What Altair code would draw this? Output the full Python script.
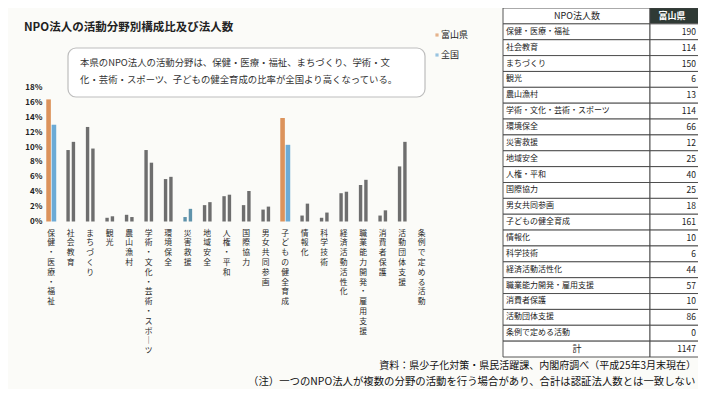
import altair as alt
import pandas as pd

# ---------------- data ----------------
categories = ["保健・医療・福祉", "社会教育", "まちづくり", "観光", "農山漁村",
              "学術・文化・芸術・スポーツ", "環境保全", "災害救援", "地域安全", "人権・平和",
              "国際協力", "男女共同参画", "子どもの健全育成", "情報化", "科学技術",
              "経済活動活性化", "職業能力開発・雇用支援", "消費者保護", "活動団体支援",
              "条例で定める活動"]
toyama_pct = [16.4, 9.6, 12.7, 0.5, 0.9, 9.6, 5.7, 0.6, 2.2, 3.4,
              2.2, 1.6, 13.9, 0.8, 0.5, 3.8, 4.9, 0.8, 7.4, 0.0]
national_pct = [13.0, 10.7, 9.8, 0.7, 0.6, 7.9, 6.0, 1.7, 2.6, 3.6,
                4.1, 2.0, 10.3, 2.4, 1.2, 4.0, 5.6, 1.5, 10.7, 0.0]
toyama_counts = [190, 114, 150, 6, 13, 114, 66, 12, 25, 40,
                 25, 18, 161, 10, 6, 44, 57, 10, 86, 0]
total_label = "計"
total_count = 1147
series = ["富山県", "全国"]
y_ticks = [0, 2, 4, 6, 8, 10, 12, 14, 16, 18]
highlighted = ["保健・医療・福祉", "子どもの健全育成"]

title_text = "NPO法人の活動分野別構成比及び法人数"
note_lines = ["本県のNPO法人の活動分野は、保健・医療・福祉、まちづくり、学術・文",
              "化・芸術・スポーツ、子どもの健全育成の比率が全国より高くなっている。"]
source_text = "資料：県少子化対策・県民活躍課、内閣府調べ（平成25年3月末現在）"
footnote_text = "（注）一つのNPO法人が複数の分野の活動を行う場合があり、合計は認証法人数とは一致しない"
table_header = ["NPO法人数", "富山県"]

# ---------------- styles ----------------
FONT = "Noto Sans CJK JP"
ORANGE = "#dc935c"
BLUE = "#6cabd6"
GRAY = "#6e6e6e"
TEAL = "#5f93ab"
INK = "#222222"
W, H = 690, 381

# ---------------- bar chart ----------------
rows = []
for i, c in enumerate(categories):
    for s, v in zip(series, (toyama_pct[i], national_pct[i])):
        if c in highlighted:
            col, w = (ORANGE if s == "富山県" else BLUE), 4.6
        elif c == "災害救援":
            col, w = TEAL, 3.4
        else:
            col, w = GRAY, 3.4
        rows.append({"cat": c, "series": s, "pct": v, "col": col, "w": w})
bars_df = pd.DataFrame(rows)

bars = alt.Chart(bars_df).mark_bar().encode(
    x=alt.X("cat:N", sort=categories,
            scale=alt.Scale(domain=categories, range=[33.5, 423.5],
                            paddingInner=0.45, paddingOuter=0.225),
            axis=alt.Axis(orient="bottom", offset=-162, title=None,
                          labelExpr="split(replace(datum.label, 'ー', '｜'), '')",
                          labelAngle=0, labelAlign="center", labelBaseline="top",
                          labelLineHeight=9.8, labelFontSize=7.8, labelFont=FONT,
                          labelColor="#2a2a2a", labelPadding=2, labelOverlap=False,
                          labelLimit=0, domain=False, ticks=False, grid=False)),
    xOffset=alt.XOffset("series:N", sort=series, scale=alt.Scale(domain=series)),
    y=alt.Y("pct:Q",
            scale=alt.Scale(domain=[0, 18], range=[213.5, 79.5], nice=False),
            axis=alt.Axis(values=y_ticks, labelExpr="datum.value + '%'", title=None,
                          orient="left", offset=-36, labelPadding=2,
                          labelFontSize=8, labelFont=FONT, labelFontWeight="bold",
                          labelColor=INK, domain=False, ticks=False, grid=False)),
    color=alt.Color("col:N", scale=None),
    size=alt.Size("w:Q", scale=None),
)

one = pd.DataFrame({"t": [title_text]})
title = alt.Chart(one).mark_text(align="left", baseline="middle", fontSize=11.5,
                                 fontWeight="bold", font=FONT, color=INK).encode(
    x=alt.value(16), y=alt.value(20), text="t:N")

box = alt.Chart(pd.DataFrame({"t": [0]})).mark_rect(
    cornerRadius=8, fill="#ffffff", stroke="#bdbdbd", strokeWidth=1.2).encode(
    x=alt.value(60), x2=alt.value(417), y=alt.value(40), y2=alt.value(89))

note_df = pd.DataFrame({"t": note_lines, "i": [0, 1]})
notes = alt.Chart(note_df).mark_text(align="left", baseline="middle", fontSize=9.4,
                                     font=FONT, color="#333333").encode(
    x=alt.value(72),
    y=alt.Y("i:O", scale=alt.Scale(type="point", domain=[0, 1], range=[55, 72], padding=0),
            axis=None),
    text="t:N")

leg_df = pd.DataFrame({"s": series, "col": [ORANGE, BLUE]})
leg_scale = alt.Scale(type="point", domain=series, range=[27, 47], padding=0)
leg_marks = alt.Chart(leg_df).mark_square(size=10).encode(
    x=alt.value(429),
    y=alt.Y("s:N", sort=series, scale=leg_scale, axis=None),
    color=alt.Color("col:N", scale=None))
leg_text = alt.Chart(leg_df).mark_text(align="left", baseline="middle", fontSize=9,
                                       font=FONT, color=INK).encode(
    x=alt.value(433),
    y=alt.Y("s:N", sort=series, scale=leg_scale, axis=None),
    text="s:N")

src = alt.Chart(pd.DataFrame({"t": [source_text]})).mark_text(
    align="right", baseline="middle", fontSize=10, font=FONT, color="#111111").encode(
    x=alt.value(688), y=alt.value(358), text="t:N")
foot = alt.Chart(pd.DataFrame({"t": [footnote_text]})).mark_text(
    align="left", baseline="middle", fontSize=10.4, font=FONT, color="#111111").encode(
    x=alt.value(240), y=alt.value(374), text="t:N")

# ---------------- table ----------------
row_keys = ["hdr"] + categories + [total_label]
tscale = alt.Scale(domain=row_keys, range=[0, 349], paddingInner=0, paddingOuter=0)
tab_df = pd.DataFrame({
    "row": row_keys,
    "label": [table_header[0]] + categories + [total_label],
    "val": [table_header[1]] + [str(v) for v in toyama_counts] + [str(total_count)],
    "fill2": ["#2f3a35"] + ["#ffffff"] * (len(categories) + 1),
})
Y_T = alt.Y("row:N", sort=row_keys, scale=tscale, axis=None)

cells1 = alt.Chart(tab_df).mark_rect(fill="#ffffff", stroke="#444444", strokeWidth=0.9).encode(
    x=alt.value(495), x2=alt.value(642), y=Y_T)
cells2 = alt.Chart(tab_df).mark_rect(stroke="#444444", strokeWidth=0.9).encode(
    x=alt.value(642), x2=alt.value(702), y=Y_T, fill=alt.Fill("fill2:N", scale=None))

body_df = tab_df[tab_df["row"].isin(categories)]
labels = alt.Chart(body_df).mark_text(align="left", baseline="middle", fontSize=8,
                                      font=FONT, color=INK).encode(
    x=alt.value(498), y=Y_T, text="label:N")
center_df = tab_df[~tab_df["row"].isin(categories)]
center = alt.Chart(center_df).mark_text(align="center", baseline="middle", fontSize=9,
                                        font=FONT, color=INK).encode(
    x=alt.value(569), y=Y_T, text="label:N")
vals_df = tab_df[tab_df["row"] != "hdr"]
vals = alt.Chart(vals_df).mark_text(
    align="right", baseline="middle", fontSize=8.5, font=FONT, color=INK).encode(
    x=alt.value(688), y=Y_T, text="val:N")
hdr2 = alt.Chart(tab_df[tab_df["row"] == "hdr"]).mark_text(
    align="center", baseline="middle", fontSize=9, font=FONT, color="#ffffff",
    fontWeight="bold").encode(x=alt.value(664), y=Y_T, text="val:N")

chart = alt.layer(
    box, notes, title, bars, leg_marks, leg_text, src, foot,
    cells1, cells2, labels, center, vals, hdr2
).resolve_scale(y="independent").properties(
    width=W, height=H, padding=0,
    autosize=alt.AutoSizeParams(type="none"),
    background="#fbfbf8",
).configure_view(stroke=None)

chart.save("out.html", embed_options={"renderer": "svg", "actions": False})
